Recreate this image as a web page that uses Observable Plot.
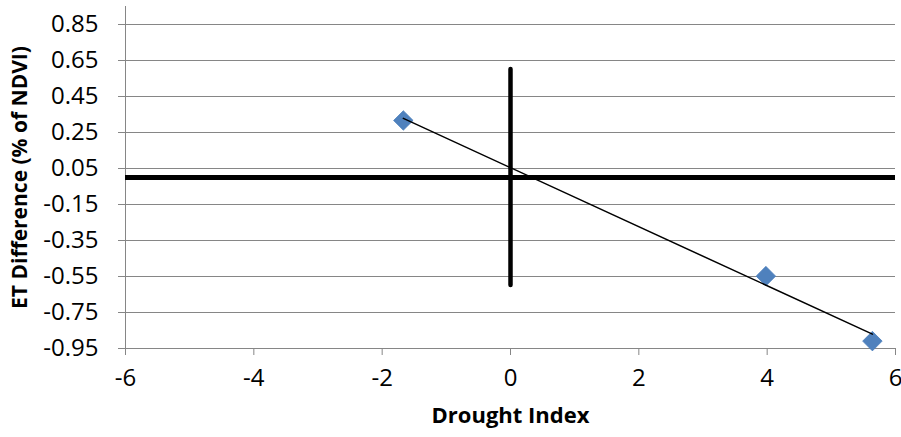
<!DOCTYPE html>
<html>
<head>
<meta charset="utf-8">
<script src="https://cdn.jsdelivr.net/npm/d3@7"></script>
<script src="https://cdn.jsdelivr.net/npm/@observablehq/plot@0.6"></script>
<style>
  html, body { margin: 0; padding: 0; background: #fff; }
</style>
</head>
<body>
<div id="chart"></div>
<script>
// Data
const droughtIndex = [-1.67, 3.98, 5.64];
const etDifference = [0.317, -0.548, -0.909];

// Axis ticks
const xTicks = [-6, -4, -2, 0, 2, 4, 6];
const yTicks = [0.85, 0.65, 0.45, 0.25, 0.05, -0.15, -0.35, -0.55, -0.75, -0.95];
const gridTicks = [0.85, 0.65, 0.45, 0.25, 0.05, -0.15, -0.35, -0.55, -0.75];

// Reference (thick) lines
const hRefY = [0];
const vRefX = [0];
const vRefY1 = [-0.6];
const vRefY2 = [0.6];

const xLabel = "Drought Index";
const yLabel = "ET Difference (% of NDVI)";

const points = droughtIndex.map((x, i) => ({x, y: etDifference[i]}));
const vRef = vRefX.map((x, i) => ({x, y1: vRefY1[i], y2: vRefY2[i]}));

const grey = "#868686";

const chart = Plot.plot({
  width: 901,
  height: 437,
  marginLeft: 125,
  marginRight: 6,
  marginTop: 6,
  marginBottom: 89,
  style: {fontFamily: "'Open Sans', sans-serif", fontSize: "24px", color: "black", background: "white"},
  x: {domain: [-6, 6]},
  y: {domain: [-0.95, 0.95]},
  marks: [
    Plot.ruleY(gridTicks, {stroke: grey, strokeWidth: 1}),
    Plot.ruleY([-0.95], {stroke: grey, strokeWidth: 1}),
    Plot.ruleX([-6], {stroke: grey, strokeWidth: 1}),
    Plot.axisY({ticks: yTicks, tickSize: 7, tickPadding: 20, stroke: grey, fill: "black",
                tickFormat: d => d.toFixed(2), label: null, fontSize: 24}),
    Plot.axisX({ticks: xTicks, tickSize: 7, tickPadding: 13, stroke: grey, fill: "black",
                tickFormat: d => String(d), label: null, fontSize: 24}),
    Plot.ruleY(hRefY, {stroke: "black", strokeWidth: 5}),
    Plot.ruleX(vRef, {x: "x", y1: "y1", y2: "y2", stroke: "black", strokeWidth: 4.5, strokeLinecap: "round"}),
    Plot.dot(points, {x: "x", y: "y", symbol: "diamond2", r: 8.8, fill: "#4F81BD", stroke: "#4A7EBB", strokeWidth: 0.75}),
    Plot.linearRegressionY(points, {x: "x", y: "y", stroke: "black", strokeWidth: 1.5, ci: 0}),
    Plot.text([xLabel], {frameAnchor: "bottom", dy: 74, fontWeight: "bold", fontSize: 22, fill: "black", textAnchor: "middle"}),
    Plot.text([yLabel], {frameAnchor: "left", dx: -105, rotate: -90, fontWeight: "bold", fontSize: 21, fill: "black", textAnchor: "middle"})
  ]
});

document.getElementById("chart").appendChild(chart);
</script>
</body>
</html>
